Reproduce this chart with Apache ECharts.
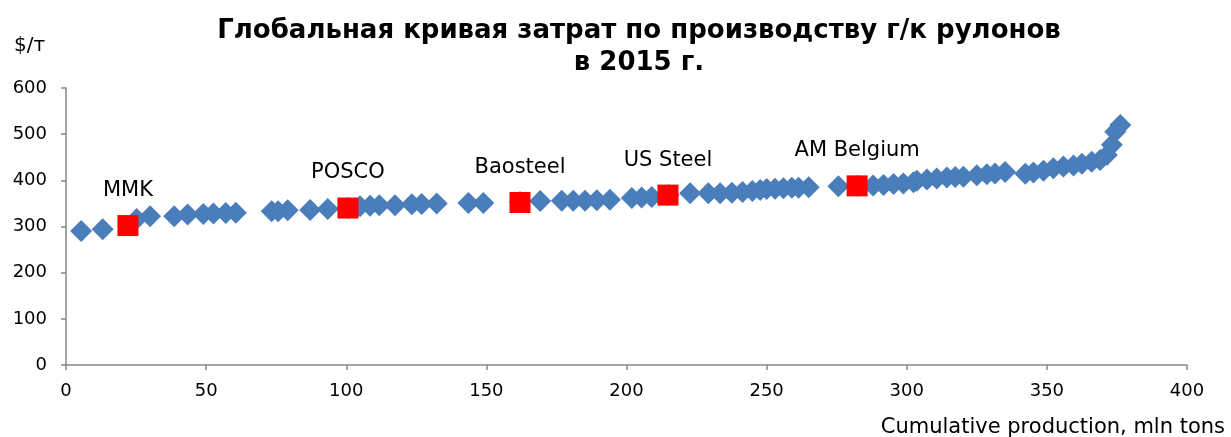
<!DOCTYPE html>
<html><head><meta charset="utf-8">
<script src="https://cdn.jsdelivr.net/npm/echarts@6/dist/echarts.min.js"></script>
<style>html,body{margin:0;padding:0;background:#fff}#c{width:1231px;height:437px}</style>
</head><body><div id="c"></div>
<script>
// Cumulative production (mln t) and cash cost ($/t) for all producers
const curveX = [5.4,13.1,25.2,30,38.6,43.4,49,52.6,57,60.6,73.4,75.7,79.1,87.1,93.4,100.5,
  104.9,108.5,111.8,117.4,123.4,126.9,132.3,143.6,148.9,162,169.2,176.9,181,185.2,189.4,194.1,201.9,
  205.4,209,215,222.7,229.2,233.4,237.6,241.4,244.9,247.7,250,253,256,259,261.4,265,
  275.6,282.5,288,291.7,295.3,298.8,302.4,303.6,307.2,310.7,314.3,317.3,320.2,325,328.6,331.5,335.1,
  342.3,345.2,348.8,352.3,355.9,359.5,362.5,366,369,371.4,373.2,374.4,376.2];
const curveY = [290,294,316,322,322,326,327,328,329,330,333,333,335,336,338,340,
  344,345,346,346,348,349,350,351,351,353,355,356,356,356,357,358,362,
  363,364,368,372,372,372,373,375,377,379,381,382,383,384,384,385,
  387,388,389,390,392,393,396,399,402,404,406,407,408,411,413,415,418,
  414,417,421,426,430,432,436,440,444,455,477,505,520];
// Highlighted companies
const compNames = ['MMK','POSCO','Baosteel','US Steel','AM Belgium'];
const compX = [22.1,100.6,162,214.8,282.3];
const compY = [302,340,352,368,388];
// Axis ticks
const xTicks = {min:0,max:400,interval:50};
const yTicks = {min:0,max:600,interval:100};

const font = 'Verdana, "DejaVu Sans", sans-serif';
const chart = echarts.init(document.getElementById('c'));
chart.setOption({
  animation:false,
  title:{text:'Глобальная кривая затрат по производству г/к рулонов\nв 2015 г.',left:634,top:10,textAlign:'center',
    textStyle:{fontFamily:font,fontWeight:'bold',fontSize:26,lineHeight:32,color:'#000'}},
  grid:{left:66,right:44,top:88,bottom:72},
  xAxis:{type:'value',min:xTicks.min,max:xTicks.max,interval:xTicks.interval,
    axisLine:{lineStyle:{color:'#868686',width:1.5}},axisTick:{show:true,length:5,lineStyle:{color:'#868686',width:1.5}},
    splitLine:{show:false},axisLabel:{color:'#000',fontFamily:font,fontSize:18,margin:17}},
  yAxis:{type:'value',min:yTicks.min,max:yTicks.max,interval:yTicks.interval,
    axisLine:{show:true,lineStyle:{color:'#868686',width:1.5}},axisTick:{show:true,length:5,lineStyle:{color:'#868686',width:1.5}},
    splitLine:{show:false},axisLabel:{color:'#000',fontFamily:font,fontSize:18,margin:19}},
  graphic:[
    {type:'text',left:14,top:36,style:{text:'$/т',fontFamily:font,fontSize:20,fill:'#000'}},
    {type:'text',right:6,top:417,style:{text:'Cumulative production, mln tons',fontFamily:font,fontSize:21,fill:'#000'}}
  ],
  series:[
    {type:'scatter',symbol:'diamond',symbolSize:22,itemStyle:{color:'#4A7EBB',opacity:1},
      data:curveX.map((x,i)=>[x,curveY[i]])},
    {type:'scatter',symbol:'rect',symbolSize:21,itemStyle:{color:'#FF0000',opacity:1},
      label:{show:true,position:'top',distance:14,formatter:p=>compNames[p.dataIndex],
        fontFamily:font,fontSize:21,color:'#000'},
      data:compX.map((x,i)=>[x,compY[i]])}
  ]
});
</script></body></html>
